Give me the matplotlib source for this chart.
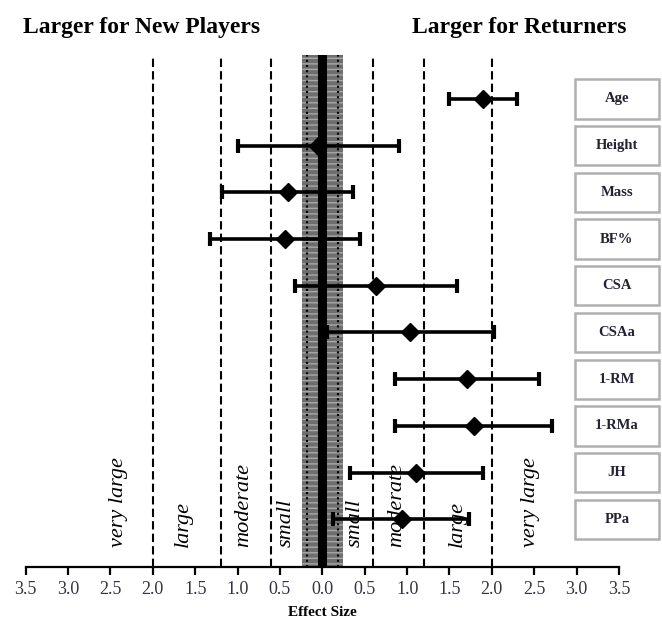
import numpy as np
import matplotlib
matplotlib.use('Agg')
import matplotlib.pyplot as plt
from matplotlib.patches import Rectangle

plt.rcParams['font.family'] = ['Liberation Serif', 'DejaVu Serif']
plt.rcParams['hatch.linewidth'] = 1.0

# measures (top to bottom), effect sizes and 90% CI limits
labels = ['Age', 'Height', 'Mass', 'BF%', 'CSA', 'CSAa', '1-RM', '1-RMa', 'JH', 'PPa']
es = [1.89, -0.05, -0.40, -0.44, 0.63, 1.04, 1.71, 1.79, 1.11, 0.94]
ci_lo = [1.49, -0.99, -1.18, -1.33, -0.32, 0.05, 0.86, 0.86, 0.33, 0.12]
ci_hi = [2.30, 0.91, 0.36, 0.44, 1.59, 2.02, 2.56, 2.71, 1.89, 1.73]

# magnitude thresholds and descriptor text
thresholds = [0.6, 1.2, 2.0]
trivial = 0.24
desc_x = [-2.41, -1.64, -0.93, -0.43, 0.39, 0.88, 1.59, 2.45]
desc_txt = ['very large', 'large', 'moderate', 'small', 'small', 'moderate', 'large', 'very large']
xticks = np.arange(-3.5, 3.51, 0.5)

W, H = 662, 623
fig = plt.figure(figsize=(W / 100, H / 100), dpi=100)
ax = fig.add_axes([25.7 / W, (H - 567) / H, (619 - 25.7) / W, (567 - 55) / H])

y = np.arange(len(labels))
ax.set_xlim(-3.5, 3.5)
ax.set_ylim(10.02, -0.94)

# trivial band
ax.add_patch(Rectangle((-trivial, -0.94), 2 * trivial, 10.96, facecolor='#6e6e6e',
                       edgecolor='#a8a8a8', hatch='---', lw=0, zorder=1))
for s in (-0.18, 0.18):
    ax.axvline(s, color='black', ls=(0, (1, 1.5)), lw=1.5, zorder=2)
ax.axvline(-0.01, color='black', lw=6.5, zorder=2)

for t in thresholds:
    for sgn in (-1, 1):
        ax.axvline(sgn * t, color='black', ls=(0, (4, 2)), lw=1.5, zorder=2)

err = [np.array(es) - np.array(ci_lo), np.array(ci_hi) - np.array(es)]
ax.errorbar(es, y, xerr=err, fmt='D', color='black', ms=9, lw=2.6,
            capsize=5, capthick=3, zorder=4)

for xx, tt in zip(desc_x, desc_txt):
    ax.text(xx, 9.6, tt, rotation=90, style='italic', fontsize=16,
            ha='center', va='bottom', zorder=3)

# label boxes on the right
for yy, lab in zip(y, labels):
    ax.add_patch(Rectangle((2.98, yy - 0.42), 0.99, 0.84, facecolor='white',
                           edgecolor='#b0b0b0', lw=1.8, clip_on=False, zorder=5))
    ax.text(3.475, yy, lab, ha='center', va='center', fontsize=10.5,
            fontweight='bold', color='#222233', clip_on=False, zorder=6)

for sp in ['top', 'left', 'right']:
    ax.spines[sp].set_visible(False)
ax.spines['bottom'].set_linewidth(1.6)
ax.set_yticks([])
ax.set_xticks(xticks)
ax.set_xticklabels(['%.1f' % abs(v) for v in xticks], fontsize=13, color='#333344')
ax.tick_params(axis='x', length=6, width=1.6, pad=4)
ax.set_xlabel('Effect Size', fontsize=11, fontweight='bold', labelpad=6)

fig.text(23 / W, 1 - 28 / H, 'Larger for New Players', fontsize=17, fontweight='bold',
         ha='left', va='center')
fig.text(627 / W, 1 - 28 / H, 'Larger for Returners', fontsize=17, fontweight='bold',
         ha='right', va='center')

fig.savefig('out.png', dpi=100)
